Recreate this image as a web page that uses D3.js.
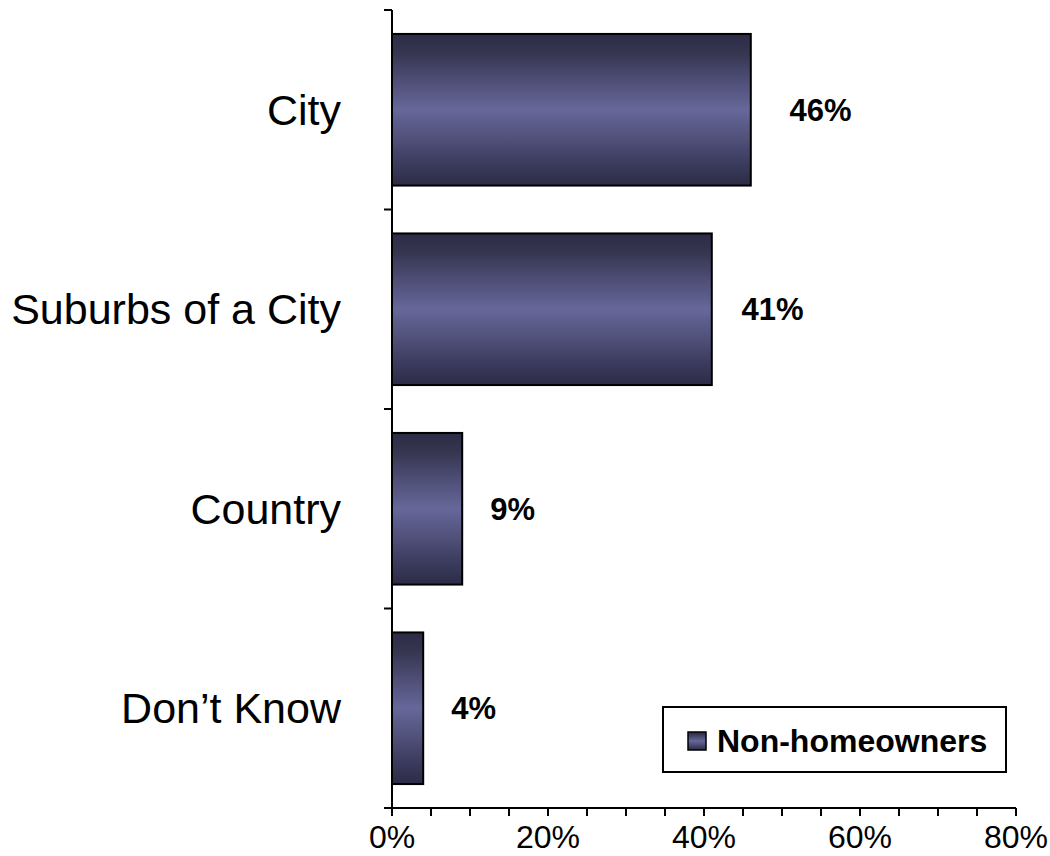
<!DOCTYPE html>
<html>
<head>
<meta charset="utf-8">
<script src="https://cdn.jsdelivr.net/npm/d3@7"></script>
<style>
html,body{margin:0;padding:0;background:#fff;}
svg{display:block;font-family:"Liberation Sans",Arial,sans-serif;}
</style>
</head>
<body>
<svg id="chart" width="1050" height="856"></svg>
<script>
const categories = ["City", "Suburbs of a City", "Country", "Don\u2019t Know"];
const values = [46, 41, 9, 4];
const valueLabels = ["46%", "41%", "9%", "4%"];
const xTickValues = [0, 20, 40, 60, 80];
const xMinorTicks = [0,5,10,15,20,25,30,35,40,45,50,55,60,65,70,75,80];
const seriesName = "Non-homeowners";

const svg = d3.select("#chart");
const x = d3.scaleLinear().domain([0, 80]).range([392, 1016]);
const y = d3.scaleBand().domain(categories).range([10, 808]).paddingInner(0.24).paddingOuter(0.12);

const defs = svg.append("defs");
const grad = defs.append("linearGradient").attr("id","barGrad").attr("x1",0).attr("y1",0).attr("x2",0).attr("y2",1);
[[0,"#2c2c46"],[0.12,"#35354f"],[0.3,"#4d4d75"],[0.5,"#67679a"],[0.7,"#4f4f78"],[0.88,"#38385a"],[1,"#2c2c46"]]
  .forEach(([o,c]) => grad.append("stop").attr("offset",o).attr("stop-color",c));

// bars
svg.append("g").selectAll("rect").data(values).join("rect")
  .attr("x", x(0))
  .attr("y", (d,i) => y(categories[i]))
  .attr("width", d => x(d) - x(0))
  .attr("height", y.bandwidth())
  .attr("fill", "url(#barGrad)")
  .attr("stroke", "#000")
  .attr("stroke-width", 2);

// value labels
svg.append("g").selectAll("text").data(values).join("text")
  .attr("x", (d,i) => x(d) + 28 + (d > 40 ? (d-40)*1.8 : 0))
  .attr("y", (d,i) => y(categories[i]) + y.bandwidth()/2)
  .attr("dy", "0.35em")
  .attr("font-size", 31)
  .attr("font-weight", "bold")
  .text((d,i) => valueLabels[i]);

// y axis
const yAxisG = svg.append("g");
yAxisG.append("line").attr("x1", x(0)).attr("x2", x(0)).attr("y1", 10).attr("y2", 808)
  .attr("stroke","#000").attr("stroke-width",2);
const yBoundaries = categories.map(c => y(c) - y.step()*y.paddingInner()/2);
yBoundaries[0] = 10;
yBoundaries.push(808);
yAxisG.selectAll("line.t").data(yBoundaries).join("line").attr("class","t")
  .attr("x1", x(0) - 8).attr("x2", x(0)).attr("y1", d => d).attr("y2", d => d)
  .attr("stroke","#000").attr("stroke-width",2);
yAxisG.selectAll("text").data(categories).join("text")
  .attr("x", 341)
  .attr("y", d => y(d) + y.bandwidth()/2)
  .attr("dy","0.35em")
  .attr("text-anchor","end")
  .attr("font-size", 43)
  .text(d => d);

// x axis
const xAxisG = svg.append("g");
xAxisG.append("line").attr("x1", x(0) - 8).attr("x2", x(80)).attr("y1", 808).attr("y2", 808)
  .attr("stroke","#000").attr("stroke-width",2);
xAxisG.selectAll("line.t").data(xMinorTicks).join("line").attr("class","t")
  .attr("x1", d => x(d)).attr("x2", d => x(d)).attr("y1", 808).attr("y2", 816)
  .attr("stroke","#000").attr("stroke-width",2);
xAxisG.selectAll("text").data(xTickValues).join("text")
  .attr("x", d => x(d))
  .attr("y", 848)
  .attr("text-anchor","middle")
  .attr("font-size", 32)
  .text(d => d + "%");

// legend
const lg = svg.append("g");
lg.append("rect").attr("x", 663).attr("y", 707).attr("width", 343).attr("height", 65)
  .attr("fill","#fff").attr("stroke","#000").attr("stroke-width",2);
lg.append("rect").attr("x", 688).attr("y", 732).attr("width", 18).attr("height", 18)
  .attr("fill","url(#barGrad)").attr("stroke","#000").attr("stroke-width",1.5);
lg.append("text").attr("x", 717).attr("y", 741).attr("dy","0.35em")
  .attr("font-size", 32).attr("font-weight","bold").text(seriesName);
</script>
</body>
</html>
